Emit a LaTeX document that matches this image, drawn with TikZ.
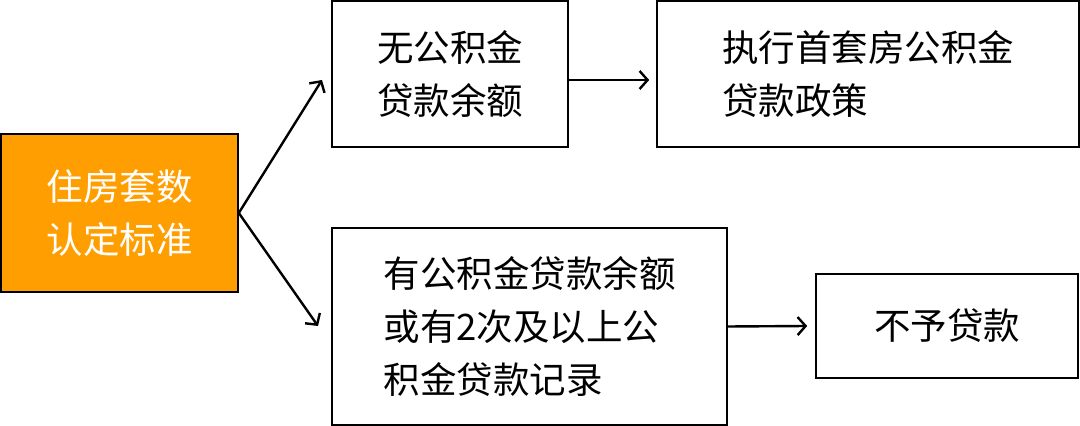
\documentclass[tikz,border=0pt]{standalone}
\usepackage{fontspec}
\setmainfont{Noto Sans CJK SC}
\usetikzlibrary{arrows.meta}
\definecolor{housing}{HTML}{FF9E00}

\begin{document}
\begin{tikzpicture}[x=.5pt, y=-.5pt,
		box/.style={draw, line width=.8pt, inner sep=0pt, align=left, font=\fontsize{18.25}{26.5}\selectfont},
		link/.style={line width=1.2pt, -{Straight Barb[length=4pt, width=9pt]}}]
		\useasboundingbox(0, 0) rectangle (1080, 426);
		\node[box, fill=housing, text=white, align=center, minimum width=118.5pt, minimum height=79pt](rule) at (119.5, 213){住房套数\\认定标准};
		\node[box, align=center, minimum width=118pt, minimum height=73pt](nobal) at (450, 74){无公积金\\贷款余额};
		\node[box, minimum width=211pt, minimum height=73pt](first) at (868, 74){执行首套房公积金\\贷款政策};
		\node[box, minimum width=197.5pt, minimum height=98.5pt](hasbal) at (529.5, 326.5){有公积金贷款余额\\或有2次及以上公\\积金贷款记录};
		\node[box, minimum width=131pt, minimum height=52pt](deny) at (947, 326){不予贷款};
		\coordinate(upend) at (322, 80);
		\coordinate(downend) at (318, 326);
		\draw[link](rule.east)--(upend);
		\draw[link](rule.east)--(downend);
		\draw[link]([yshift=-3pt]nobal.east)--([xshift=-3.5pt, yshift=-3pt]first.west);
		\draw[link](hasbal.east)--([xshift=-4pt]deny.west);
	\end{tikzpicture}
\end{document}
